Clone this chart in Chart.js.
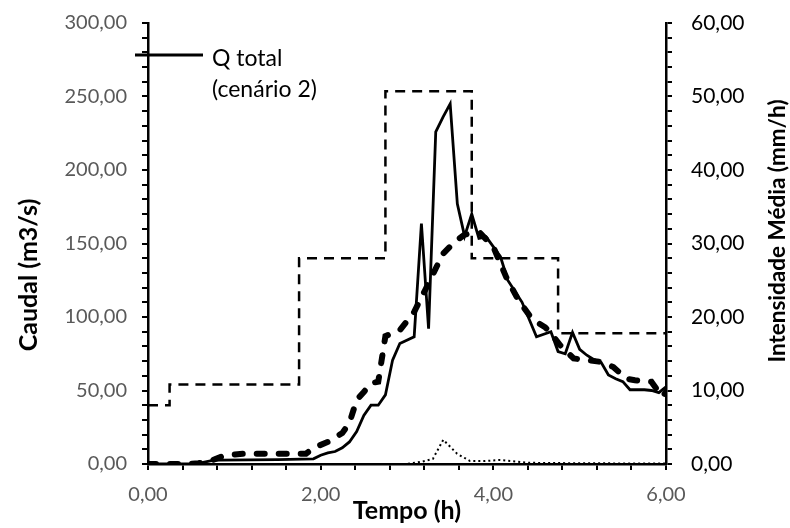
<!DOCTYPE html>
<html>
<head>
<meta charset="utf-8">
<script src="https://cdn.jsdelivr.net/npm/chart.js@4.4.1/dist/chart.umd.min.js"></script>
<style>
  html, body { margin: 0; padding: 0; background: #fff; }
  #wrap { width: 790px; height: 528px; }
</style>
</head>
<body>
<div id="wrap"><canvas id="grafico" width="790" height="528"></canvas></div>
<script>
// Dados (tempo em horas)

// Q total (cenário 2) - linha contínua
const tempoQ2 = [0, 0.5, 0.583, 0.667, 0.75, 0.833, 1.5, 1.917, 2.0, 2.083, 2.167, 2.25, 2.333, 2.417, 2.5, 2.583, 2.667, 2.75, 2.833, 2.917, 3.083, 3.167, 3.25, 3.333, 3.417, 3.5, 3.583, 3.667, 3.75, 3.833, 3.917, 4.083, 4.167, 4.333, 4.5, 4.667, 4.75, 4.833, 4.917, 5.0, 5.083, 5.167, 5.25, 5.333, 5.417, 5.5, 5.583, 5.75, 5.833, 5.917, 6.0];
const caudalQ2 = [0, 0, 0.5, 1.5, 2.5, 2.7, 3, 3.5, 6, 7.5, 8.5, 11, 15, 22, 33, 40, 40, 47, 70.7, 82, 86.5, 163.6, 92, 226, 236, 245, 177, 155, 170, 153.5, 154.5, 141, 125, 110, 86.5, 90, 76.5, 75, 89.5, 78, 74, 71, 69, 60.5, 58, 56, 50.5, 50.5, 50, 48.5, 52.5];

// Segundo hidrograma - tracejado grosso
const tempoQ1 = [0, 0.45, 0.583, 0.72, 0.85, 1.0, 1.1, 1.83, 1.917, 2.083, 2.25, 2.333, 2.417, 2.5, 2.583, 2.667, 2.75, 2.833, 2.917, 3.083, 3.208, 3.333, 3.417, 3.55, 3.667, 3.75, 3.85, 4.0, 4.15, 4.29, 4.42, 4.5, 4.6, 4.667, 4.77, 4.93, 5.08, 5.24, 5.39, 5.54, 5.64, 5.83, 5.9, 5.96, 6.0];
const caudalQ1 = [0, 0, 0.5, 2, 5, 6.5, 7, 7, 11, 15, 21, 28, 43.5, 49, 55, 56, 87, 89, 91, 103.5, 118, 133, 143, 151, 156, 157, 157, 147.7, 127, 111.5, 101, 96.7, 93, 88.8, 81, 71.8, 70.7, 69.5, 66, 58, 57, 56, 50.3, 46, 49];

// Terceiro hidrograma - pontilhado
const tempoQ3 = [0, 3.0, 3.167, 3.3, 3.42, 3.58, 3.73, 3.9, 4.08, 4.42, 5.0, 6.0];
const caudalQ3 = [0, 0, 1.5, 3.5, 16.5, 7, 2, 2, 2.8, 0.8, 0.5, 0.3];

// Intensidade média (mm/h) - degraus, eixo da direita
const tempoInt = [0, 0.25, 1.75, 2.75, 3.75, 4.75, 6.0];
const intensidade = [8, 10.8, 28, 50.7, 28, 17.8, 17.8];

// Eixos
const eixoX = { min: 0, max: 6, passo: 0.4, rotulo: 2 };
const eixoCaudal = { min: 0, max: 300, passo: 10, rotulo: 50 };
const eixoInt = { min: 0, max: 60, passo: 2, rotulo: 10 };

const FONTE = 'Lato';

function pares(xs, ys) {
    return xs.map((x, i) => ({ x: x, y: ys[i] }));
}

function formata(v) {
    return v.toFixed(2).replace('.', ',');
}

function multiplo(v, m) {
    const r = v / m;
    return Math.abs(r - Math.round(r)) < 1e-6;
}

// largura fixa para o eixo vertical, sem margem extra por cima/baixo
function fixaLargura(largura) {
    return (s) => {
        s.width = largura;
        s.paddingTop = 0;
        s.paddingBottom = 0;
    };
}

// Títulos dos eixos e legenda desenhados à mão (posições como no Excel)
const textosExtra = {
    id: 'textosExtra',
    afterDraw(chart) {
        const ctx = chart.ctx;
        const area = chart.chartArea;
        ctx.save();
        ctx.fillStyle = '#000';
        ctx.textAlign = 'center';
        ctx.textBaseline = 'middle';

        // Eixo X
        ctx.font = 'bold 25px ' + FONTE;
        ctx.fillText('Tempo (h)', (area.left + area.right) / 2, 511);

        // Eixo Y esquerdo
        ctx.save();
        ctx.translate(29, 275);
        ctx.rotate(-Math.PI / 2);
        ctx.fillText('Caudal (m3/s)', 0, 0);
        ctx.restore();

        // Eixo Y direito (lido de baixo para cima)
        ctx.font = 'bold 22.5px ' + FONTE;
        ctx.save();
        ctx.translate(778, 231);
        ctx.rotate(-Math.PI / 2);
        ctx.fillText('Intensidade Média (mm/h)', 0, 0);
        ctx.restore();

        // Legenda
        ctx.strokeStyle = '#000';
        ctx.lineWidth = 3;
        ctx.beginPath();
        ctx.moveTo(area.left - 13, 55);
        ctx.lineTo(area.left + 55, 55);
        ctx.stroke();
        ctx.textAlign = 'left';
        ctx.textBaseline = 'alphabetic';
        ctx.font = '23px ' + FONTE;
        ctx.fillText('Q total', 212, 66);
        ctx.fillText('(cenário 2)', 212, 97);
        ctx.restore();
    }
};

const ctx = document.getElementById('grafico').getContext('2d');
const grafico = new Chart(ctx, {
    type: 'line',
    data: {
        datasets: [
            {
                label: 'Q total (cenário 2)',
                data: pares(tempoQ2, caudalQ2),
                yAxisID: 'y',
                borderColor: '#000',
                borderWidth: 2.8,
                pointRadius: 0,
                order: 1
            },
            {
                label: 'Q total (tracejado)',
                data: pares(tempoQ1, caudalQ1),
                yAxisID: 'y',
                borderColor: '#000',
                borderWidth: 6,
                borderDash: [8, 14],
                borderCapStyle: 'round',
                pointRadius: 0,
                order: 2
            },
            {
                label: 'Q total (pontilhado)',
                data: pares(tempoQ3, caudalQ3),
                yAxisID: 'y',
                borderColor: '#000',
                borderWidth: 2,
                borderDash: [2, 3],
                pointRadius: 0,
                order: 3
            },
            {
                label: 'Intensidade Média',
                data: pares(tempoInt, intensidade),
                yAxisID: 'y2',
                stepped: 'before',
                borderColor: '#000',
                borderWidth: 2.5,
                borderDash: [10, 7],
                pointRadius: 0,
                order: 4
            }
        ]
    },
    options: {
        responsive: false,
        animation: false,
        layout: { padding: { top: 23, left: 0, right: 0, bottom: 0 } },
        plugins: {
            legend: { display: false },
            tooltip: { enabled: false }
        },
        scales: {
            x: {
                type: 'linear',
                min: eixoX.min,
                max: eixoX.max,
                afterFit: (s) => { s.height = 64; },
                border: { color: '#000', width: 2.5 },
                grid: { drawOnChartArea: false, drawTicks: true, tickLength: 6, color: '#000', lineWidth: 2 },
                ticks: {
                    stepSize: eixoX.passo,
                    autoSkip: false,
                    maxRotation: 0,
                    padding: 13,
                    color: '#595959',
                    font: { family: FONTE, size: 20 },
                    callback: (v) => multiplo(v, eixoX.rotulo) ? formata(v) : ''
                }
            },
            y: {
                position: 'left',
                min: eixoCaudal.min,
                max: eixoCaudal.max,
                afterFit: fixaLargura(148),
                border: { color: '#000', width: 2.5 },
                grid: { drawOnChartArea: false, drawTicks: true, tickLength: 6, color: '#000', lineWidth: 2 },
                ticks: {
                    stepSize: eixoCaudal.passo,
                    maxTicksLimit: 100,
                    autoSkip: false,
                    padding: 15,
                    color: '#595959',
                    font: { family: FONTE, size: 20 },
                    callback: (v) => multiplo(v, eixoCaudal.rotulo) ? formata(v) : ''
                }
            },
            y2: {
                position: 'right',
                min: eixoInt.min,
                max: eixoInt.max,
                afterFit: fixaLargura(124),
                border: { color: '#000', width: 2.5 },
                grid: { drawOnChartArea: false, drawTicks: true, tickLength: 6, color: '#000', lineWidth: 2 },
                ticks: {
                    stepSize: eixoInt.passo,
                    maxTicksLimit: 100,
                    autoSkip: false,
                    padding: 19,
                    color: '#000',
                    font: { family: FONTE, size: 21 },
                    callback: (v) => multiplo(v, eixoInt.rotulo) ? formata(v) : ''
                }
            }
        }
    },
    plugins: [textosExtra]
});
</script>
</body>
</html>
